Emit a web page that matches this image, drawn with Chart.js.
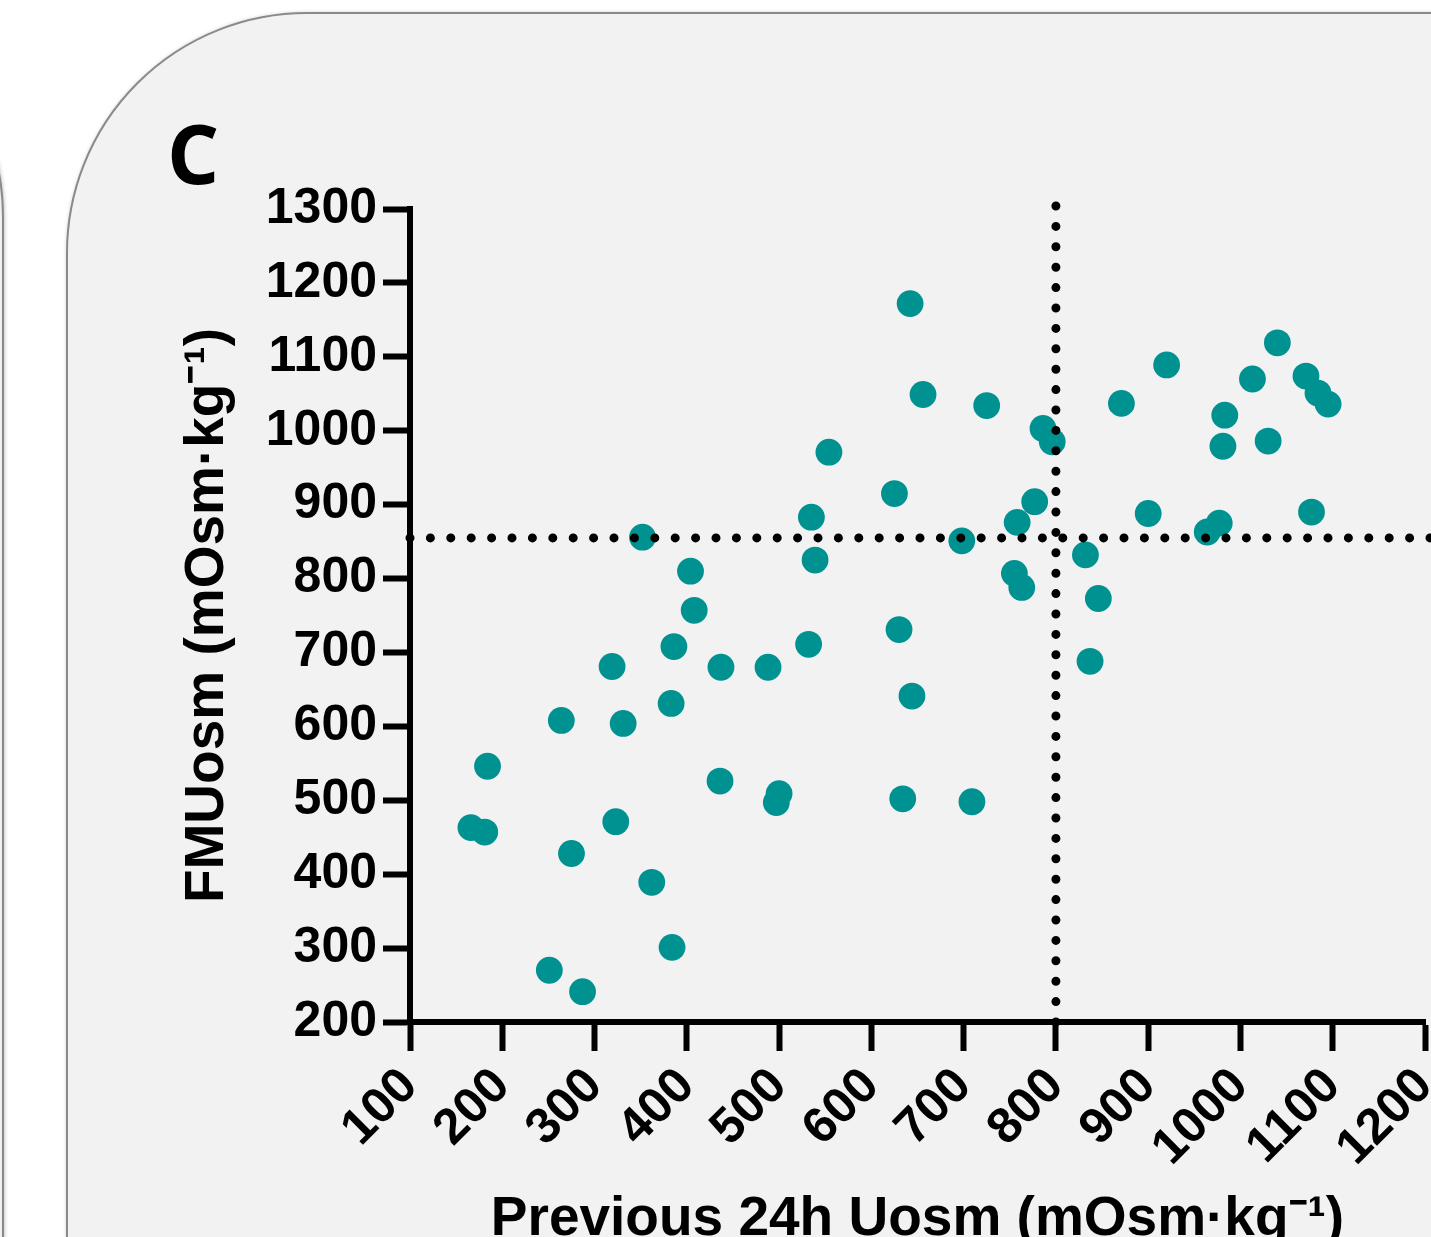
<!DOCTYPE html>
<html>
<head>
<meta charset="utf-8">
<script src="https://cdn.jsdelivr.net/npm/chart.js@4.4.1/dist/chart.umd.min.js"></script>
<style>
  html, body { margin: 0; padding: 0; background: #ffffff; overflow: hidden; }
  #wrap { width: 1431px; height: 1237px; position: relative; }
</style>
</head>
<body>
<div id="wrap"><canvas id="chart"></canvas></div>
<script>
// ---------- data ----------
const panelLabel = "C";
const xTitle = "Previous 24h Uosm (mOsm·kg⁻¹)";
const yTitle = "FMUosm (mOsm·kg⁻¹)";
const xTicks = [100, 200, 300, 400, 500, 600, 700, 800, 900, 1000, 1100, 1200];
const yTicks = [200, 300, 400, 500, 600, 700, 800, 900, 1000, 1100, 1200, 1300];

// Previous 24h Uosm (x) and FMUosm (y), one entry per participant
const prevUosm = [166, 181, 184, 264, 319, 331, 323, 275, 251, 287,
                  362, 384, 352, 404, 408, 386, 383, 437, 436, 488,
                  497, 500, 532, 535, 539, 554, 625, 630, 644, 634,
                  642, 656, 698, 709, 725, 758, 755, 763, 777, 786,
                  796, 832, 846, 837, 871, 900, 920, 964, 977, 983,
                  981, 1013, 1030, 1040, 1071, 1077, 1084, 1095];
const fmUosm   = [463, 457, 546, 608, 681, 604, 471, 428, 270, 241,
                  389, 301, 856, 810, 757, 708, 631, 680, 526, 680,
                  497, 509, 711, 883, 825, 971, 915, 731, 641, 502,
                  1172, 1049, 851, 498, 1034, 876, 807, 788, 904, 1003,
                  985, 832, 773, 688, 1037, 888, 1089, 863, 875, 1021,
                  979, 1070, 986, 1119, 1074, 890, 1051, 1036];

// reference (cut-off) lines
const hLineX = [100, 1210];
const hLineY = [855, 855];
const vLineX = [800, 800];
const vLineY = [200, 1310];

// ---------- helpers ----------
const toPts = (xs, ys) => xs.map((x, i) => ({ x: x, y: ys[i] }));
const FONT = '"Liberation Sans", Arial, sans-serif';

const panelPlugin = {
  id: 'panel',
  beforeDraw(chart) {
    const ctx = chart.ctx;
    ctx.save();
    ctx.fillStyle = '#ffffff';
    ctx.fillRect(0, 0, chart.width, chart.height);
    // neighbouring panel (left, mostly off-screen)
    ctx.shadowColor = 'rgba(0,0,0,0.25)';
    ctx.shadowBlur = 4;
    ctx.beginPath();
    ctx.roundRect(-1000, -23, 1003, 2000, 240);
    ctx.fillStyle = '#ffffff';
    ctx.fill();
    ctx.lineWidth = 2;
    ctx.strokeStyle = '#8a8a8a';
    ctx.stroke();
    // this panel
    ctx.beginPath();
    ctx.roundRect(67, 13, 1600, 2000, 240);
    ctx.fillStyle = '#f2f2f2';
    ctx.fill();
    ctx.shadowColor = 'rgba(0,0,0,0)';
    ctx.lineWidth = 2;
    ctx.strokeStyle = '#8a8a8a';
    ctx.stroke();
    ctx.restore();
  },
  afterDraw(chart) {
    const ctx = chart.ctx;
    ctx.save();
    ctx.fillStyle = '#000';
    ctx.font = 'bold 82px "Open Sans", sans-serif';
    ctx.textBaseline = 'alphabetic';
    ctx.fillText(panelLabel, 167, 184);
    ctx.restore();
  }
};

const dotLine = {
  showLine: true,
  borderColor: '#000',
  borderWidth: 9,
  borderDash: [0, 20.4],
  borderCapStyle: 'round',
  pointRadius: 0,
  pointHoverRadius: 0,
  fill: false,
  clip: false,
  order: 0
};

const plainTick = v => String(v);

new Chart(document.getElementById('chart'), {
  type: 'scatter',
  data: {
    datasets: [
      Object.assign({ label: 'FMUosm cut-off', data: toPts(hLineX, hLineY) }, dotLine),
      Object.assign({ label: '24h Uosm cut-off', data: toPts(vLineX, vLineY) }, dotLine),
      {
        label: 'Participants',
        data: toPts(prevUosm, fmUosm),
        backgroundColor: '#009191',
        borderWidth: 0,
        pointRadius: 13.4,
        pointHoverRadius: 13.4,
        order: 1
      }
    ]
  },
  options: {
    responsive: true,
    maintainAspectRatio: false,
    animation: false,
    events: [],
    layout: { autoPadding: false, padding: { left: 0, top: 209, right: 6, bottom: 0 } },
    plugins: { legend: { display: false }, tooltip: { enabled: false } },
    scales: {
      x: {
        type: 'linear',
        min: 100, max: 1200,
        afterBuildTicks: s => { s.ticks = xTicks.map(v => ({ value: v })); },
        afterFit: s => { s.height = 215; s.paddingLeft = 0; s.paddingRight = 0; },
        ticks: {
          autoSkip: false, maxRotation: 45, minRotation: 45,
          color: '#000', padding: 6,
          callback: plainTick,
          font: { family: FONT, size: 50, weight: 'bold' }
        },
        grid: { drawOnChartArea: false, drawTicks: true, tickLength: 29, tickWidth: 6, tickColor: '#000', color: '#000' },
        border: { display: true, color: '#000', width: 6 },
        title: {
          display: true, text: xTitle, color: '#000',
          font: { family: FONT, size: 55, weight: 'bold' },
          padding: { top: 0, bottom: -16 }
        }
      },
      y: {
        type: 'linear',
        min: 200, max: 1300,
        afterBuildTicks: s => { s.ticks = yTicks.map(v => ({ value: v })); },
        afterFit: s => { s.width = 410; s.paddingTop = 0; s.paddingBottom = 0; },
        ticks: {
          color: '#000', padding: 6,
          callback: plainTick,
          font: { family: FONT, size: 50, weight: 'bold' }
        },
        grid: { drawOnChartArea: false, drawTicks: true, tickLength: 27, tickWidth: 6, tickColor: '#000', color: '#000' },
        border: { display: true, color: '#000', width: 6 },
        title: {
          display: true, text: yTitle, color: '#000',
          font: { family: FONT, size: 55, weight: 'bold' },
          padding: { top: 175, bottom: 0 }
        }
      }
    }
  },
  plugins: [panelPlugin]
});
</script>
</body>
</html>
